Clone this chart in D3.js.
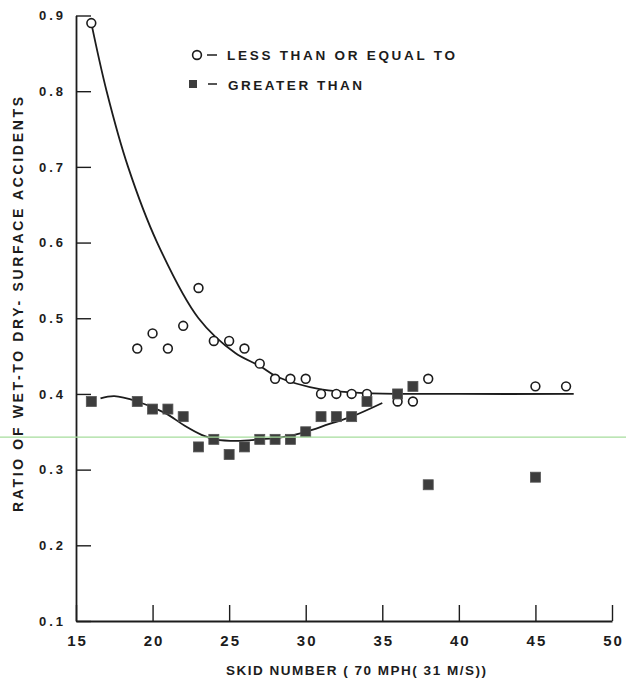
<!DOCTYPE html>
<html>
<head>
<meta charset="utf-8">
<script src="https://cdn.jsdelivr.net/npm/d3@7"></script>
<style>
  body { margin: 0; background: #fff; }
  svg { display: block; font-family: "Liberation Sans", Arial, sans-serif; }
</style>
</head>
<body>
<div id="chart"></div>
<script>
var margins = {top: 15.5, right: 14, bottom: 66, left: 76},
    width = 626 - margins.left - margins.right,
    height = 687 - margins.top - margins.bottom;

// tick values
const xTicks = [15, 20, 25, 30, 35, 40, 45, 50];
const yTicks = [0.1, 0.2, 0.3, 0.4, 0.5, 0.6, 0.7, 0.8, 0.9];

// "less than or equal to" (open circles)
const lessSkid  = [16, 19, 20, 21, 22, 23, 24, 25, 26, 27, 28, 29, 30, 31, 32, 33, 34, 36, 37, 38, 45, 47];
const lessRatio = [0.89, 0.46, 0.48, 0.46, 0.49, 0.54, 0.47, 0.47, 0.46, 0.44, 0.42, 0.42, 0.42, 0.40, 0.40, 0.40, 0.40, 0.39, 0.39, 0.42, 0.41, 0.41];

// "greater than" (filled squares)
const greaterSkid  = [16, 19, 20, 21, 22, 23, 24, 25, 26, 27, 28, 29, 30, 31, 32, 33, 34, 36, 37, 38, 45];
const greaterRatio = [0.39, 0.39, 0.38, 0.38, 0.37, 0.33, 0.34, 0.32, 0.33, 0.34, 0.34, 0.34, 0.35, 0.37, 0.37, 0.37, 0.39, 0.40, 0.41, 0.28, 0.29];

// hand-drawn fit curves
const fitLessSkid  = [16, 17, 18.4, 20.3, 23, 25.4, 27, 28.1, 31, 34, 40, 47.5];
const fitLessRatio = [0.89, 0.80, 0.70, 0.60, 0.50, 0.454, 0.437, 0.423, 0.406, 0.401, 0.40, 0.40];
const fitGreaterSkid  = [16.6, 17.5, 19, 20.8, 22.1, 23.2, 24.1, 25.5, 27, 28.5, 30, 31.5, 33, 35];
const fitGreaterRatio = [0.394, 0.397, 0.39, 0.375, 0.358, 0.346, 0.34, 0.338, 0.34, 0.343, 0.35, 0.36, 0.37, 0.388];

// faint green line across the scan
const scanLineRatio = 0.343;

const ink = "#1c1c1c";

var svg = d3.select("#chart").append("svg")
    .attr("width", width + margins.left + margins.right)
    .attr("height", height + margins.top + margins.bottom);

var g = svg.append("g")
    .attr("transform", "translate(" + margins.left + "," + margins.top + ")");

const x = d3.scaleLinear().domain([15, 50]).range([0, width]);
const y = d3.scaleLinear().domain([0.1, 0.9]).range([height, 0]);

// green scan line, full page width
svg.append("line")
    .attr("x1", 0)
    .attr("x2", 626)
    .attr("y1", margins.top + y(scanLineRatio))
    .attr("y2", margins.top + y(scanLineRatio))
    .style("stroke", "#a6dd9c")
    .style("stroke-width", 1.2);

// axes, ticks point inward
const yAxis = d3.axisLeft(y)
    .tickValues(yTicks)
    .tickFormat(d3.format(".1f"))
    .tickSize(-15)
    .tickSizeOuter(0)
    .tickPadding(10);

const xAxis = d3.axisBottom(x)
    .tickValues(xTicks)
    .tickFormat(d3.format("d"))
    .tickSize(-16)
    .tickSizeOuter(0)
    .tickPadding(14);

g.append("g")
    .attr("class", "y axis")
    .call(yAxis)
    .call(a => a.select(".domain").style("stroke", ink).style("stroke-width", 1.8))
    .call(a => a.selectAll(".tick line").style("stroke", ink).style("stroke-width", 1.4))
    .call(a => a.selectAll(".tick text")
        .style("font-size", "13px")
        .style("font-weight", "bold")
        .style("letter-spacing", "3px")
        .style("fill", ink));

g.append("g")
    .attr("class", "x axis")
    .attr("transform", "translate(0," + height + ")")
    .call(xAxis)
    .call(a => a.select(".domain").style("stroke", ink).style("stroke-width", 1.8))
    .call(a => a.selectAll(".tick line").style("stroke", ink).style("stroke-width", 1.4))
    .call(a => a.selectAll(".tick text")
        .style("font-size", "15px")
        .style("font-weight", "bold")
        .style("letter-spacing", "2px")
        .attr("dx", "1px")
        .style("fill", ink));

// fit curves
const line = d3.line()
    .x(d => x(d[0]))
    .y(d => y(d[1]))
    .curve(d3.curveCatmullRom);

g.append("path")
    .datum(d3.zip(fitLessSkid, fitLessRatio))
    .attr("d", line)
    .style("fill", "none")
    .style("stroke", ink)
    .style("stroke-width", 1.8);

g.append("path")
    .datum(d3.zip(fitGreaterSkid, fitGreaterRatio))
    .attr("d", line)
    .style("fill", "none")
    .style("stroke", ink)
    .style("stroke-width", 1.8);

// points
g.selectAll(".less")
    .data(d3.zip(lessSkid, lessRatio))
    .enter().append("circle")
    .attr("class", "less")
    .attr("cx", d => x(d[0]))
    .attr("cy", d => y(d[1]))
    .attr("r", 4.4)
    .style("fill", "#fff")
    .style("stroke", ink)
    .style("stroke-width", 1.6);

g.selectAll(".greater")
    .data(d3.zip(greaterSkid, greaterRatio))
    .enter().append("rect")
    .attr("class", "greater")
    .attr("x", d => x(d[0]) - 5)
    .attr("y", d => y(d[1]) - 5)
    .attr("width", 10)
    .attr("height", 10)
    .style("fill", "#3d3d3d")
    .style("stroke", "#555")
    .style("stroke-width", 0.8);

// legend
svg.append("circle")
    .attr("cx", 197).attr("cy", 55).attr("r", 4.4)
    .style("fill", "#fff").style("stroke", ink).style("stroke-width", 1.6);
svg.append("line")
    .attr("x1", 207).attr("x2", 217).attr("y1", 55).attr("y2", 55)
    .style("stroke", ink).style("stroke-width", 1.5);
svg.append("text")
    .attr("x", 227).attr("y", 60)
    .attr("textLength", 228).attr("lengthAdjust", "spacing")
    .style("font-size", "13.5px").style("font-weight", "bold").style("fill", ink)
    .text("LESS THAN OR EQUAL TO");

svg.append("rect")
    .attr("x", 189).attr("y", 80).attr("width", 8).attr("height", 8)
    .style("fill", "#3d3d3d");
svg.append("line")
    .attr("x1", 208).attr("x2", 217).attr("y1", 84).attr("y2", 84)
    .style("stroke", ink).style("stroke-width", 1.5);
svg.append("text")
    .attr("x", 228).attr("y", 89.5)
    .attr("textLength", 134).attr("lengthAdjust", "spacing")
    .style("font-size", "13.5px").style("font-weight", "bold").style("fill", ink)
    .text("GREATER THAN");

// axis titles
svg.append("text")
    .attr("x", 226).attr("y", 675)
    .attr("textLength", 260).attr("lengthAdjust", "spacing")
    .style("font-size", "13.5px").style("font-weight", "bold").style("fill", ink)
    .text("SKID NUMBER ( 70 MPH( 31 M/S))");

svg.append("text")
    .attr("transform", "translate(23,512) rotate(-90)")
    .attr("textLength", 415).attr("lengthAdjust", "spacing")
    .style("font-size", "14px").style("font-weight", "bold").style("fill", ink)
    .text("RATIO OF WET-TO DRY- SURFACE ACCIDENTS");
</script>
</body>
</html>
